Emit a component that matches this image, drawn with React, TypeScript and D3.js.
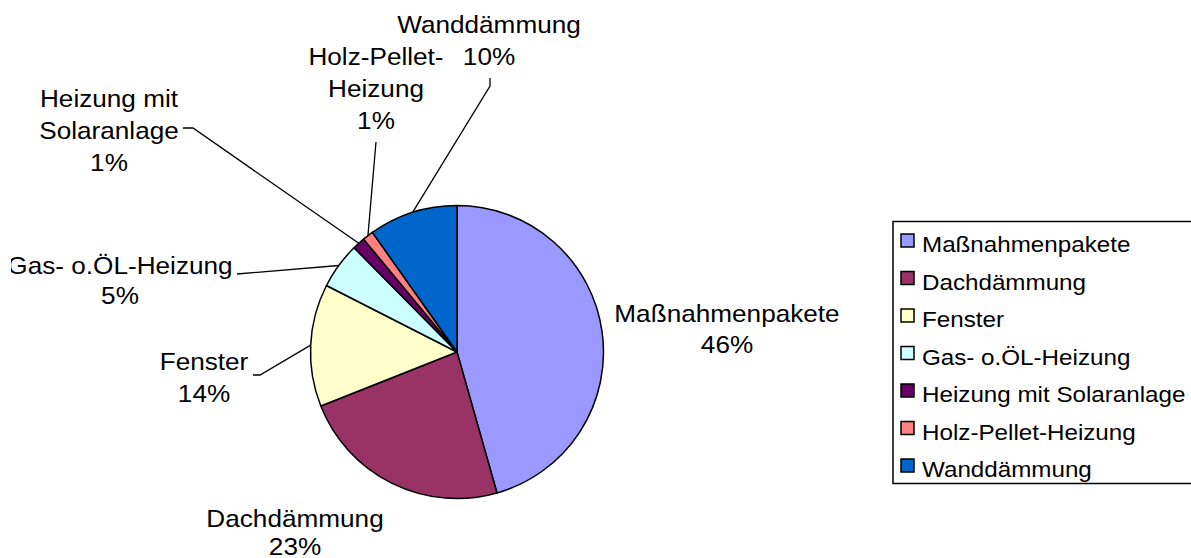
import React from "react";
import * as d3 from "d3";

// Anteil der geförderten Maßnahmen
const categories = [
  "Maßnahmenpakete",
  "Dachdämmung",
  "Fenster",
  "Gas- o.ÖL-Heizung",
  "Heizung mit Solaranlage",
  "Holz-Pellet-Heizung",
  "Wanddämmung",
];
const shares = [45.6, 23.4, 13.5, 5.1, 1.4, 1.2, 9.8];
const colors = ["#9999FF", "#993366", "#FFFFCC", "#CCFFFF", "#660066", "#FF8080", "#0066CC"];

// Beschriftungen (Zeilen, wie im Original umbrochen)
const labelLines: Record<string, string[]> = {
  "Maßnahmenpakete": ["Maßnahmenpakete"],
  "Dachdämmung": ["Dachdämmung"],
  "Fenster": ["Fenster"],
  "Gas- o.ÖL-Heizung": ["Gas- o.ÖL-Heizung"],
  "Heizung mit Solaranlage": ["Heizung mit", "Solaranlage"],
  "Holz-Pellet-Heizung": ["Holz-Pellet-", "Heizung"],
  "Wanddämmung": ["Wanddämmung"],
};

const W = 1191;
const H = 558;
const cx = 457;
const cy = 352;
const r = 146.5;
const font = "'Liberation Sans', Arial, sans-serif";
const stretch = 1.09;

// Lage der Beschriftungen: Mitte x, Grundlinien, Knickpunkte der Führungslinie
const labelLayout: Record<string, { x: number; ys: number[]; leader?: [number, number][] }> = {
  "Maßnahmenpakete": { x: 727, ys: [322, 353] },
  "Dachdämmung": { x: 295, ys: [527, 555] },
  "Fenster": { x: 204, ys: [370, 402], leader: [[253, 375], [260, 375]] },
  "Gas- o.ÖL-Heizung": { x: 120, ys: [274, 304], leader: [[237, 274]] },
  "Heizung mit Solaranlage": { x: 109, ys: [107, 139, 171], leader: [[183, 128], [193, 128]] },
  "Holz-Pellet-Heizung": { x: 376, ys: [65, 97, 129], leader: [[376, 142]] },
  "Wanddämmung": { x: 489, ys: [33, 65], leader: [[490, 78], [490, 86]] },
};

export default function App() {
  const data = categories.map((name, i) => ({ name, value: shares[i], color: colors[i] }));
  const pie = d3.pie<any>().sort(null).value((d) => d.value);
  const arcs = pie(data);
  const arc = d3.arc<any>().innerRadius(0).outerRadius(r);
  const edge = d3.arc<any>().innerRadius(r).outerRadius(r);

  const legendY = d3.scalePoint<string>().domain(categories).range([252, 477]);

  return (
    <svg
      width={W}
      height={H}
      style={{ position: "absolute", left: 0, top: 0, background: "#fff" }}
      fontFamily={font}
    >
      <defs>
        <clipPath id="plot">
          <rect x={11} y={0} width={W - 11} height={H} />
        </clipPath>
      </defs>
      <g transform={`translate(${cx},${cy})`}>
        {arcs.map((a, i) => (
          <path key={i} d={arc(a) as string} fill={a.data.color} stroke="#000" strokeWidth={1.5} strokeLinejoin="round" />
        ))}
      </g>

      {/* Führungslinien */}
      {arcs.map((a, i) => {
        const lay = labelLayout[a.data.name];
        if (!lay.leader) return null;
        const [ex, ey] = edge.centroid(a);
        const pts: [number, number][] = [...lay.leader, [cx + ex, cy + ey]];
        return (
          <path key={i} d={d3.line()(pts) as string} fill="none" stroke="#000" strokeWidth={1.3} />
        );
      })}

      {/* Datenbeschriftungen */}
      <g clipPath="url(#plot)" fontSize={24} fill="#000">
        {arcs.map((a, i) => {
          const lay = labelLayout[a.data.name];
          const lines = [...labelLines[a.data.name], `${Math.round(a.data.value)}%`];
          return lines.map((t, j) => (
            <text
              key={`${i}-${j}`}
              transform={`translate(${lay.x},${lay.ys[j]}) scale(${stretch},1)`}
              textAnchor="middle"
            >
              {t}
            </text>
          ));
        })}
      </g>

      {/* Legende */}
      <rect x={893} y={221.5} width={320} height={262} fill="#fff" stroke="#000" strokeWidth={1.5} />
      {data.map((d) => {
        const y = legendY(d.name) as number;
        return (
          <g key={d.name}>
            <rect x={901} y={y - 18} width={13} height={13} fill={d.color} stroke="#000" strokeWidth={1.5} />
            <text transform={`translate(922,${y}) scale(1.1,1)`} fontSize={22} fill="#000">
              {d.name}
            </text>
          </g>
        );
      })}
    </svg>
  );
}
